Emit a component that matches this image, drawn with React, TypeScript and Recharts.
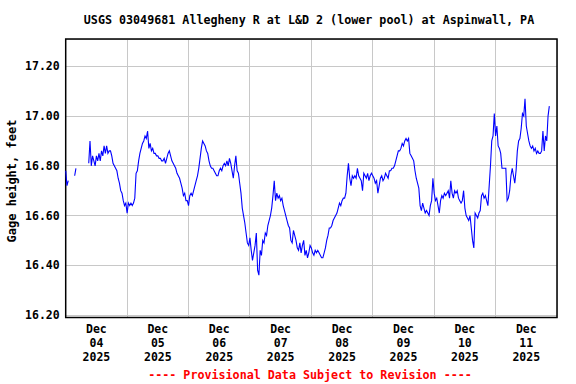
import React from "react";
import {
  LineChart,
  Line,
  XAxis,
  YAxis,
  CartesianGrid,
  ReferenceArea,
} from "recharts";

// gage height, feet, every 30 minutes from Dec 04 2025 00:00 (null = no data)
const gageHeight: (number | null)[] = [
  16.78, 16.72, 16.74, null, null, null, null, 16.76, 16.79, null, null, null,
  null, null, null, null, null, null, 16.81, 16.9, 16.8, 16.84, 16.82, 16.8,
  16.84, 16.82, 16.85, 16.82, 16.86, 16.84, 16.88, 16.85, 16.88, 16.85, 16.86, 16.86,
  16.84, 16.81, 16.8, 16.79, 16.78, 16.75, 16.73, 16.7, 16.69, 16.66, 16.64, 16.65,
  16.61, 16.65, 16.64, 16.65, 16.64, 16.65, 16.67, 16.77, 16.78, 16.82, 16.85, 16.87,
  16.89, 16.9, 16.92, 16.91, 16.94, 16.87, 16.89, 16.86, 16.87, 16.85, 16.85, 16.84,
  16.84, 16.83, 16.83, 16.82, 16.82, 16.83, 16.81, 16.83, 16.85, 16.86, 16.84, 16.82,
  16.81, 16.8, 16.79, 16.77, 16.76, 16.75, 16.73, 16.71, 16.68, 16.69, 16.66, 16.66,
  16.64, 16.68, 16.69, 16.68, 16.7, 16.72, 16.74, 16.76, 16.79, 16.83, 16.87, 16.9,
  16.89, 16.88, 16.86, 16.85, 16.82, 16.8, 16.79, 16.79, 16.78, 16.77, 16.76, 16.76,
  16.78, 16.79, 16.78, 16.8, 16.81, 16.8, 16.82, 16.8, 16.83, 16.81, 16.78, 16.75,
  16.8, 16.84, 16.78, 16.77, 16.73, 16.69, 16.63, 16.6, 16.57, 16.53, 16.49, 16.48,
  16.51, 16.46, 16.42, 16.45, 16.48, 16.53, 16.38, 16.36, 16.46, 16.44, 16.5, 16.49,
  16.53, 16.52, 16.56, 16.58, 16.6, 16.63, 16.68, 16.74, 16.66, 16.69, 16.67, 16.68,
  16.66, 16.67, 16.64, 16.62, 16.6, 16.58, 16.56, 16.55, 16.5, 16.49, 16.54, 16.52,
  16.5, 16.47, 16.46, 16.49, 16.45, 16.48, 16.5, 16.44, 16.46, 16.43, 16.45, 16.48,
  16.47, 16.45, 16.44, 16.46, 16.45, 16.46, 16.45, 16.44, 16.43, 16.43, 16.45, 16.47,
  16.5, 16.52, 16.55, 16.55, 16.56, 16.58, 16.59, 16.6, 16.61, 16.63, 16.65, 16.64,
  16.66, 16.67, 16.67, 16.69, 16.76, 16.81, 16.75, 16.72, 16.76, 16.75, 16.76, 16.75,
  16.79, 16.76, 16.75, 16.74, 16.7, 16.77, 16.76, 16.75, 16.77, 16.74, 16.76, 16.77,
  16.76, 16.75, 16.73, 16.74, 16.69, 16.72, 16.75, 16.76, 16.74, 16.75, 16.77, 16.76,
  16.75, 16.78, 16.78, 16.79, 16.79, 16.8, 16.82, 16.84, 16.86, 16.86, 16.87, 16.89,
  16.88, 16.9, 16.91, 16.9, 16.91, 16.85, 16.84, 16.83, 16.82, 16.78, 16.75, 16.73,
  16.71, 16.64, 16.62, 16.65, 16.63, 16.61, 16.62, 16.61, 16.6, 16.64, 16.66, 16.75,
  16.69, 16.66, 16.67, 16.64, 16.61, 16.66, 16.68, 16.67, 16.69, 16.68, 16.69, 16.7,
  16.67, 16.74, 16.69, 16.67, 16.7, 16.69, 16.7, 16.67, 16.66, 16.65, 16.66, 16.7,
  16.63, 16.6, 16.59, 16.58, 16.6, 16.55, 16.5, 16.47, 16.61, 16.6, 16.59, 16.61,
  16.62, 16.68, 16.69, 16.67, 16.68, 16.66, 16.64, 16.72, 16.8, 16.9, 16.92, 17.01,
  16.92, 16.96, 16.88, 16.87, 16.85, 16.79, 16.79, 16.79, 16.79, 16.66, 16.67, 16.7,
  16.76, 16.79, 16.76, 16.73, 16.78, 16.86, 16.9, 16.91, 16.95, 17.01, 17.0, 17.07,
  16.96, 16.93, 16.9, 16.88, 16.87, 16.88, 16.86, 16.87, 16.85, 16.86, 16.85, 16.85,
  16.86, 16.94, 16.86, 16.92, 16.9, 17.0, 17.04,
];

const monthLabel = "Dec";
const yearLabel = "2025";
const dayLabels = ["04", "05", "06", "07", "08", "09", "10", "11"];
const heightTicks = [16.2, 16.4, 16.6, 16.8, 17.0, 17.2];

const title = "USGS 03049681 Allegheny R at L&D 2 (lower pool) at Aspinwall, PA";
const footer = "---- Provisional Data Subject to Revision ----";
const yTitle = "Gage height, feet";

const data = gageHeight.map((v, i) => ({ hour: i * 0.5, level: v }));
const dayTicks = dayLabels.map((_, i) => 12 + i * 24);
const midnightTicks = dayLabels.slice(1).map((_, i) => (i + 1) * 24);
const font = "'DejaVu Sans Mono', monospace";

function DayTick(props: any) {
  const { x, y, payload } = props;
  const idx = dayTicks.indexOf(payload.value);
  return (
    <text
      x={x}
      y={y}
      textAnchor="middle"
      fontFamily={font}
      fontWeight="bold"
      fontSize={11.5}
      fill="#000"
    >
      <tspan x={x} dy={7}>{monthLabel}</tspan>
      <tspan x={x} dy={14}>{dayLabels[idx]}</tspan>
      <tspan x={x} dy={14}>{yearLabel}</tspan>
    </text>
  );
}

export default function App() {
  return (
    <div style={{ position: "absolute", left: 0, top: 0, width: 576, height: 384, background: "#fff" }}>
      <LineChart
        width={576}
        height={384}
        data={data}
        margin={{ top: 39, right: 19, left: 0, bottom: 0 }}
      >
        <CartesianGrid
          xAxisId="grid"
          stroke="#c8c8c8"
          strokeDasharray=""
          shapeRendering="crispEdges"
        />
        <XAxis
          xAxisId="grid"
          dataKey="hour"
          type="number"
          domain={[0, 192]}
          ticks={midnightTicks}
          hide
        />
        <XAxis
          xAxisId="days"
          dataKey="hour"
          type="number"
          domain={[0, 192]}
          ticks={dayTicks}
          tick={<DayTick />}
          tickLine={false}
          axisLine={false}
          height={66.5}
          interval={0}
        />
        <YAxis
          domain={[16.19, 17.31]}
          ticks={heightTicks}
          tickFormatter={(v: number) => v.toFixed(2)}
          tickLine={false}
          axisLine={false}
          width={65.7}
          tickMargin={0}
          tick={{ fontFamily: font, fontWeight: "bold", fontSize: 11.5, fill: "#000" }}
          allowDataOverflow
        />
        <ReferenceArea
          xAxisId="days"
          x1={0}
          x2={192}
          y1={16.19}
          y2={17.31}
          fill="none"
          stroke="#000"
          strokeWidth={1.5}
          fillOpacity={0}
        />
        <Line
          xAxisId="days"
          dataKey="level"
          type="linear"
          stroke="#0000ff"
          strokeWidth={1.1}
          dot={false}
          connectNulls={false}
          isAnimationActive={false}
        />
      </LineChart>
      <svg
        width={576}
        height={384}
        style={{ position: "absolute", left: 0, top: 0, pointerEvents: "none" }}
      >
        <text x={309} y={24} textAnchor="middle" fontFamily={font} fontWeight="bold" fontSize={11.7} fill="#000">
          {title}
        </text>
        <text x={310} y={379} textAnchor="middle" fontFamily={font} fontWeight="bold" fontSize={11.7} fill="#ff0000">
          {footer}
        </text>
        <text
          x={16}
          y={181}
          transform="rotate(-90 16 181)"
          textAnchor="middle"
          fontFamily={font}
          fontWeight="bold"
          fontSize={12}
          fill="#000"
        >
          {yTitle}
        </text>
      </svg>
    </div>
  );
}
